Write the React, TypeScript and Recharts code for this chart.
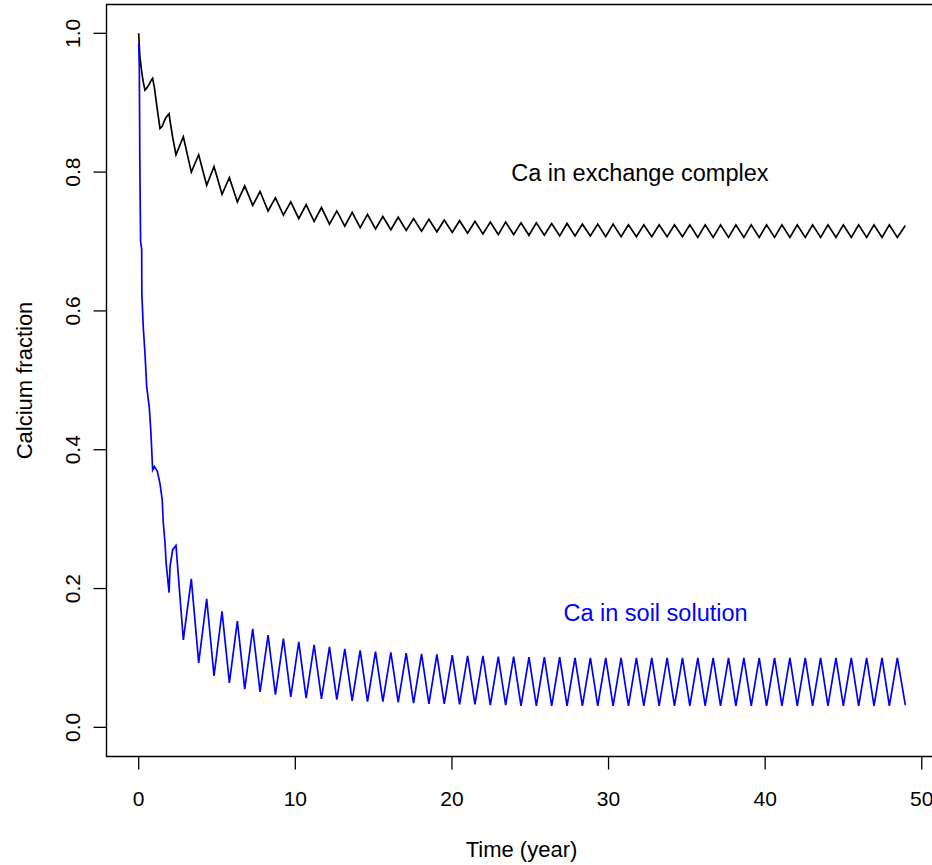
import React from "react";
import { LineChart, Line, XAxis, YAxis, ReferenceArea, ReferenceDot } from "recharts";

const FONT = "'Liberation Sans', Arial, Helvetica, sans-serif";

// first two years, read point by point
const earlyTime = [0, 0.04, 0.07, 0.12, 0.19, 0.2, 0.29, 0.4, 0.51, 0.68, 0.77, 0.83, 0.89, 1.0, 1.19, 1.36, 1.5, 1.57, 1.68, 1.75, 1.94, 2.0, 2.17];
const earlyExchange = [1.0, 0.98, 0.968, 0.958, 0.945, 0.943, 0.93, 0.918, 0.921, 0.927, 0.931, 0.933, 0.935, 0.922, 0.89, 0.863, 0.866, 0.87, 0.876, 0.879, 0.884, 0.874, 0.85];
const earlySolution = [0.985, 0.95, 0.82, 0.7, 0.689, 0.626, 0.577, 0.539, 0.491, 0.46, 0.429, 0.4, 0.371, 0.376, 0.369, 0.351, 0.328, 0.295, 0.266, 0.237, 0.194, 0.232, 0.256];

// turning points afterwards (solution peak, solution trough, ...)
const cycleTime = [
  2.38, 2.85, 3.36, 3.83, 4.34, 4.81, 5.32, 5.79, 6.3, 6.77, 7.28, 7.75, 8.26, 8.73, 9.24, 9.71,
  10.22, 10.69, 11.2, 11.67, 12.18, 12.65, 13.16, 13.63, 14.14, 14.61, 15.12, 15.59, 16.1, 16.57,
  17.08, 17.55, 18.06, 18.53, 19.04, 19.51, 20.02, 20.49, 21.0, 21.47, 21.98, 22.45, 22.96, 23.43,
  23.94, 24.41, 24.92, 25.39, 25.9, 26.37, 26.88, 27.35, 27.86, 28.33, 28.84, 29.31, 29.82, 30.29,
  30.8, 31.27, 31.78, 32.25, 32.76, 33.23, 33.74, 34.21, 34.72, 35.19, 35.7, 36.17, 36.68, 37.15,
  37.66, 38.13, 38.64, 39.11, 39.62, 40.09, 40.6, 41.07, 41.58, 42.05, 42.56, 43.03, 43.54, 44.01,
  44.52, 44.99, 45.5, 45.97, 46.48, 46.95, 47.46, 47.93, 48.44, 48.95,
];
const exchangeCycle = [
  0.825, 0.851, 0.8, 0.825, 0.781, 0.808, 0.768, 0.792, 0.757, 0.78, 0.752, 0.772, 0.744, 0.763, 0.738, 0.757,
  0.733, 0.753, 0.729, 0.749, 0.725, 0.744, 0.722, 0.742, 0.72, 0.739, 0.718, 0.736, 0.717, 0.735,
  0.716, 0.733, 0.715, 0.732, 0.714, 0.731, 0.713, 0.73, 0.712, 0.729, 0.711, 0.728, 0.71, 0.728,
  0.71, 0.727, 0.709, 0.727, 0.709, 0.726, 0.708, 0.726, 0.708, 0.725, 0.708, 0.725, 0.707, 0.725,
  0.707, 0.724, 0.707, 0.724, 0.707, 0.724, 0.707, 0.724, 0.707, 0.724, 0.706, 0.724, 0.706, 0.724,
  0.706, 0.724, 0.706, 0.724, 0.706, 0.724, 0.706, 0.724, 0.706, 0.724, 0.706, 0.724, 0.706, 0.724,
  0.706, 0.724, 0.706, 0.724, 0.706, 0.724, 0.706, 0.724, 0.706, 0.723,
];
const solutionCycle = [
  0.262, 0.126, 0.214, 0.093, 0.185, 0.074, 0.167, 0.064, 0.153, 0.055, 0.142, 0.051, 0.133, 0.047, 0.128, 0.044,
  0.123, 0.042, 0.119, 0.041, 0.116, 0.04, 0.113, 0.038, 0.111, 0.037, 0.109, 0.037, 0.108, 0.036,
  0.107, 0.035, 0.106, 0.034, 0.105, 0.034, 0.104, 0.033, 0.103, 0.033, 0.103, 0.032, 0.102, 0.032,
  0.102, 0.031, 0.101, 0.031, 0.101, 0.031, 0.101, 0.031, 0.1, 0.031, 0.1, 0.031, 0.1, 0.031,
  0.1, 0.031, 0.1, 0.031, 0.1, 0.031, 0.1, 0.031, 0.1, 0.031, 0.1, 0.031, 0.1, 0.031,
  0.1, 0.031, 0.1, 0.031, 0.1, 0.031, 0.1, 0.031, 0.1, 0.031, 0.1, 0.031, 0.1, 0.031,
  0.1, 0.031, 0.1, 0.031, 0.1, 0.031, 0.1, 0.031, 0.1, 0.032,
];

const xTicks = [0, 10, 20, 30, 40, 50];
const yTicks = [0, 0.2, 0.4, 0.6, 0.8, 1.0];

const time = [...earlyTime, ...cycleTime];
const exchange = [...earlyExchange, ...exchangeCycle];
const solution = [...earlySolution, ...solutionCycle];
const data = time.map((t, i) => ({ t, exchange: exchange[i], solution: solution[i] }));

const X_DOMAIN: [number, number] = [-2.056, 50.94];
const Y_DOMAIN: [number, number] = [-0.042, 1.0415];

function YTick({ x, y, payload }: any) {
  return (
    <text
      x={x}
      y={y}
      transform={`rotate(-90, ${x}, ${y})`}
      textAnchor="middle"
      fontSize={21}
      fontFamily={FONT}
      fill="#000"
    >
      {Number(payload.value).toFixed(1)}
    </text>
  );
}

function note(label: string, color: string) {
  return (p: any) => (
    <text
      x={p.cx}
      y={p.cy}
      dy="0.36em"
      textAnchor="middle"
      fontSize={23.5}
      fontFamily={FONT}
      fill={color}
    >
      {label}
    </text>
  );
}

export default function App() {
  return (
    <div
      style={{
        position: "absolute",
        left: 0,
        top: 0,
        width: 932,
        height: 865,
        overflow: "hidden",
        background: "#fff",
      }}
    >
      <LineChart
        width={960}
        height={865}
        data={data}
        margin={{ top: 4.5, right: 23.5, bottom: 0.5, left: 0.5 }}
      >
        <XAxis
          dataKey="t"
          type="number"
          domain={X_DOMAIN}
          allowDataOverflow
          ticks={xTicks}
          interval={0}
          height={108}
          axisLine={false}
          stroke="#000"
          tickLine={{ stroke: "#000", strokeWidth: 1.3 }}
          tickSize={13}
          tickMargin={22}
          tick={{ fill: "#000", fontSize: 21, fontFamily: FONT }}
        />
        <YAxis
          type="number"
          domain={Y_DOMAIN}
          allowDataOverflow
          ticks={yTicks}
          interval={0}
          width={106}
          axisLine={false}
          stroke="#000"
          tickLine={{ stroke: "#000", strokeWidth: 1.3 }}
          tickSize={13}
          tickMargin={13.5}
          tick={<YTick />}
        />
        <ReferenceArea
          x1={X_DOMAIN[0]}
          x2={X_DOMAIN[1]}
          y1={Y_DOMAIN[0]}
          y2={Y_DOMAIN[1]}
          fill="none"
          stroke="#000"
          strokeWidth={1.4}
          ifOverflow="visible"
        />
        <Line
          dataKey="exchange"
          type="linear"
          stroke="#000000"
          strokeWidth={1.7}
          dot={false}
          isAnimationActive={false}
        />
        <Line
          dataKey="solution"
          type="linear"
          stroke="#0000ff"
          strokeWidth={1.7}
          dot={false}
          isAnimationActive={false}
        />
        <ReferenceDot x={32} y={0.8} r={0} ifOverflow="visible" shape={note("Ca in exchange complex", "#000")} />
        <ReferenceDot x={33} y={0.166} r={0} ifOverflow="visible" shape={note("Ca in soil solution", "#0000ff")} />
      </LineChart>
      <svg
        width={932}
        height={865}
        style={{ position: "absolute", left: 0, top: 0, pointerEvents: "none" }}
      >
        <text x={521.5} y={857} textAnchor="middle" fontSize={22} fontFamily={FONT} fill="#000">
          Time (year)
        </text>
        <text
          x={31.5}
          y={380.5}
          transform="rotate(-90, 31.5, 380.5)"
          textAnchor="middle"
          fontSize={22}
          fontFamily={FONT}
          fill="#000"
        >
          Calcium fraction
        </text>
      </svg>
    </div>
  );
}
